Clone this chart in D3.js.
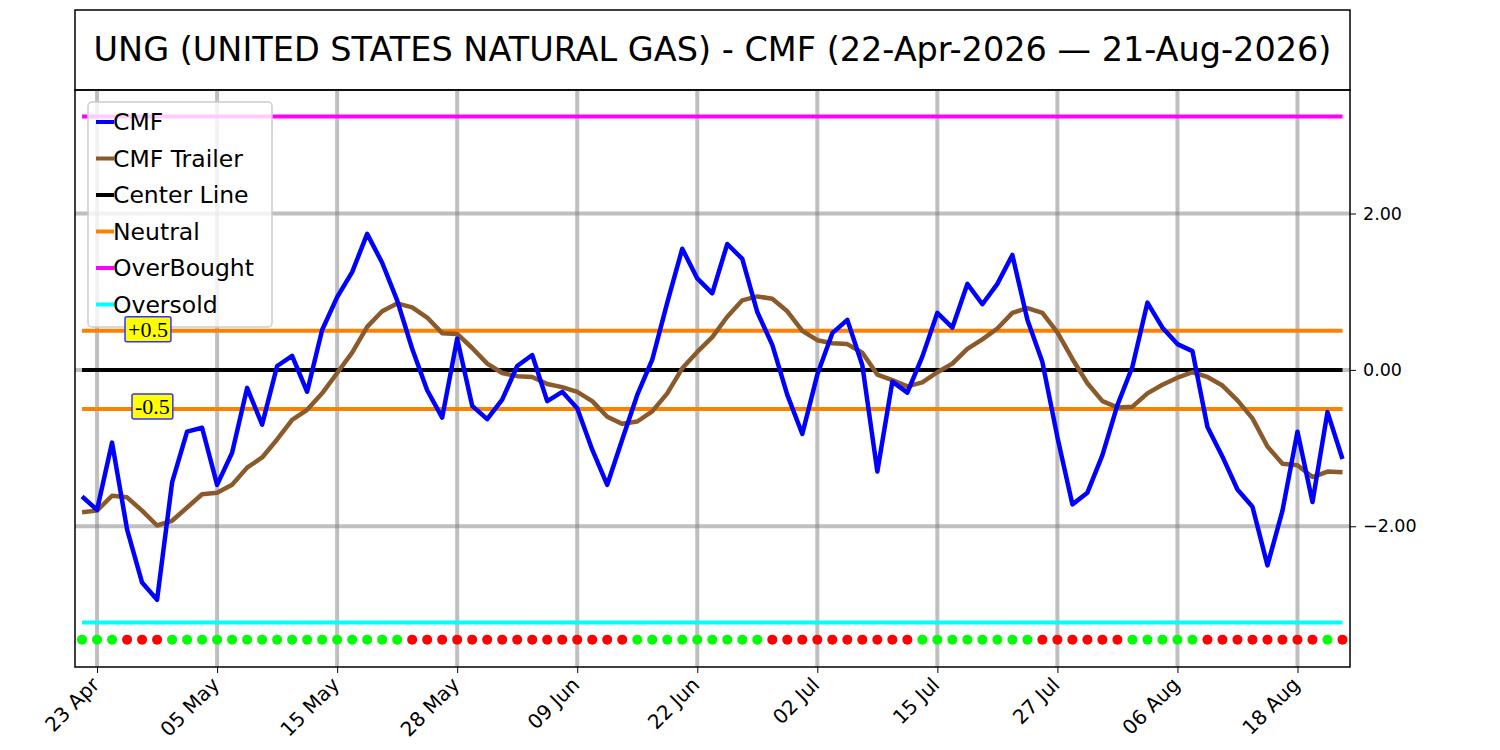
<!DOCTYPE html>
<html>
<head>
<meta charset="utf-8">
<script src="https://cdn.jsdelivr.net/npm/d3@7"></script>
<style>
  body { margin: 0; background: #fff; }
  text { font-family: "DejaVu Sans", sans-serif; }
  text.serif { font-family: "Liberation Serif", "DejaVu Serif", serif; }
</style>
</head>
<body>
<svg id="chart" width="1500" height="750"></svg>
<script>
// trading days 22-Apr-2026 .. 21-Aug-2026 (index based x axis)
const tickIdx = [1, 9, 17, 25, 33, 41, 49, 57, 65, 73, 81];
const tickLabels = ["23 Apr", "05 May", "15 May", "28 May", "09 Jun", "22 Jun", "02 Jul", "15 Jul", "27 Jul", "06 Aug", "18 Aug"];

const cmf = [-1.62, -1.79, -0.93, -2.04, -2.72, -2.94, -1.44, -0.79, -0.74, -1.47,
  -1.06, -0.23, -0.70, 0.05, 0.18, -0.28, 0.51, 0.93, 1.25, 1.74,
  1.37, 0.89, 0.27, -0.26, -0.61, 0.40, -0.46, -0.63, -0.38, 0.05,
  0.19, -0.40, -0.28, -0.49, -1.02, -1.47, -0.89, -0.32, 0.13, 0.86,
  1.55, 1.17, 0.98, 1.61, 1.42, 0.74, 0.32, -0.32, -0.82, -0.06,
  0.47, 0.64, 0.06, -1.30, -0.15, -0.29, 0.17, 0.73, 0.54, 1.10,
  0.84, 1.10, 1.47, 0.64, 0.10, -0.86, -1.72, -1.57, -1.09, -0.45,
  0.04, 0.86, 0.54, 0.33, 0.24, -0.73, -1.11, -1.53, -1.75, -2.50,
  -1.80, -0.79, -1.69, -0.54, -1.14];

const trailer = [-1.82, -1.80, -1.61, -1.63, -1.80, -1.99, -1.93, -1.76, -1.59, -1.57,
  -1.47, -1.25, -1.12, -0.89, -0.64, -0.51, -0.30, -0.04, 0.22, 0.55,
  0.75, 0.85, 0.80, 0.67, 0.47, 0.46, 0.28, 0.08, -0.04, -0.08,
  -0.09, -0.18, -0.22, -0.28, -0.40, -0.60, -0.69, -0.66, -0.53, -0.30,
  0.02, 0.23, 0.42, 0.68, 0.89, 0.94, 0.91, 0.75, 0.50, 0.38,
  0.34, 0.33, 0.22, -0.06, -0.13, -0.21, -0.16, -0.03, 0.08, 0.27,
  0.39, 0.53, 0.73, 0.79, 0.73, 0.48, 0.14, -0.17, -0.40, -0.48,
  -0.47, -0.30, -0.19, -0.10, -0.03, -0.09, -0.20, -0.39, -0.62, -0.98,
  -1.20, -1.22, -1.37, -1.30, -1.31];

// 1 = green (bullish), 0 = red
const signal = [1, 1, 1, 0, 0, 0, 1, 1, 1, 1,
  1, 1, 1, 1, 1, 1, 1, 1, 1, 1,
  1, 1, 0, 0, 0, 0, 0, 0, 0, 0,
  0, 0, 0, 0, 0, 0, 0, 1, 1, 1,
  1, 1, 1, 1, 1, 1, 0, 0, 0, 0,
  0, 0, 0, 0, 0, 0, 1, 1, 1, 1,
  1, 1, 1, 1, 0, 0, 0, 0, 0, 0,
  1, 1, 1, 1, 1, 0, 0, 0, 0, 0,
  0, 0, 0, 1, 0];

const yTicks = [-2, 0, 2];
const levels = { center: 0, neutralUp: 0.5, neutralDn: -0.5, overBought: 3.24, overSold: -3.23 };
const dotLevel = -3.45;

const pL = 75, pR = 1350, pT = 90, pB = 667;
const svg = d3.select("#chart");

const x = d3.scaleLinear().domain([-0.47, 84.5]).range([pL, pR]);
const y = d3.scaleLinear().domain([-3.8, 3.58]).range([pB, pT]);

// title box
svg.append("rect").attr("x", pL).attr("y", 10).attr("width", pR - pL).attr("height", 80)
  .attr("fill", "none").attr("stroke", "#000").attr("stroke-width", 1.5);
svg.append("text").attr("x", (pL + pR) / 2).attr("y", 61).attr("text-anchor", "middle")
  .attr("font-size", 33.5).text("UNG (UNITED STATES NATURAL GAS) - CMF (22-Apr-2026 \u2014 21-Aug-2026)");

// grid
const grid = svg.append("g").attr("stroke", "#808080").attr("stroke-opacity", 0.5).attr("stroke-width", 4);
grid.selectAll("line.v").data(tickIdx).join("line")
  .attr("x1", d => x(d)).attr("x2", d => x(d)).attr("y1", pT).attr("y2", pB);
grid.selectAll("line.h").data(yTicks).join("line")
  .attr("x1", pL).attr("x2", pR).attr("y1", d => y(d)).attr("y2", d => y(d));

// horizontal levels
const hl = [
  [levels.overBought, "#ff00ff"], [levels.overSold, "#00ffff"],
  [levels.neutralUp, "#ff8000"], [levels.neutralDn, "#ff8000"], [levels.center, "#000"]
];
svg.append("g").selectAll("line").data(hl).join("line")
  .attr("x1", x(0)).attr("x2", x(84)).attr("y1", d => y(d[0])).attr("y2", d => y(d[0]))
  .attr("stroke", d => d[1]).attr("stroke-width", 4);

// lines
const line = d3.line().x((d, i) => x(i)).y(d => y(d));
svg.append("path").datum(trailer).attr("d", line).attr("fill", "none")
  .attr("stroke", "#8b5a2b").attr("stroke-width", 4.5).attr("stroke-linejoin", "round");
svg.append("path").datum(cmf).attr("d", line).attr("fill", "none")
  .attr("stroke", "#0000ff").attr("stroke-width", 4.5).attr("stroke-linejoin", "round");

// signal dots
svg.append("g").selectAll("circle").data(signal).join("circle")
  .attr("cx", (d, i) => x(i)).attr("cy", y(dotLevel)).attr("r", 5)
  .attr("fill", d => d ? "#00ff00" : "#ff0000");

// frame
svg.append("rect").attr("x", pL).attr("y", pT).attr("width", pR - pL).attr("height", pB - pT)
  .attr("fill", "none").attr("stroke", "#000").attr("stroke-width", 1.5);

// axes
const yAxis = d3.axisRight(y).tickValues(yTicks).tickFormat(d3.format(".2f")).tickSize(6);
const ya = svg.append("g").attr("transform", `translate(${pR},0)`).call(yAxis);
ya.select(".domain").remove();
ya.selectAll("text").attr("font-size", 17.5).attr("dx", 4);

const xAxis = d3.axisBottom(x).tickValues(tickIdx).tickFormat((d, i) => tickLabels[i]).tickSize(6);
const xa = svg.append("g").attr("transform", `translate(0,${pB})`).call(xAxis);
xa.select(".domain").remove();
xa.selectAll("text").attr("font-size", 20).attr("y", 0).attr("dy", "0.35em")
  .attr("text-anchor", "end").attr("transform", "translate(-2,14) rotate(-45)");

// legend
const legItems = [["CMF", "#0000ff"], ["CMF Trailer", "#8b5a2b"], ["Center Line", "#000"],
  ["Neutral", "#ff8000"], ["OverBought", "#ff00ff"], ["Oversold", "#00ffff"]];
const lg = svg.append("g").attr("transform", "translate(88,102)");
lg.append("rect").attr("width", 184).attr("height", 225).attr("rx", 4)
  .attr("fill", "#fff").attr("fill-opacity", 0.8).attr("stroke", "#ccc").attr("stroke-width", 1.5);
legItems.forEach(([t, c], i) => {
  const yy = 20 + i * 36.5;
  lg.append("line").attr("x1", 8).attr("x2", 26).attr("y1", yy).attr("y2", yy).attr("stroke", c).attr("stroke-width", 4);
  lg.append("text").attr("x", 25).attr("y", yy + 8).attr("font-size", 23.5).text(t);
});

// neutral labels (drawn over legend)
const labs = [[levels.neutralUp, "+0.5", 125, -1], [levels.neutralDn, "-0.5", 132, -2]];
labs.forEach(([v, t, lx, dy]) => {
  const g = svg.append("g");
  const txt = g.append("text").attr("class", "serif").attr("x", lx + 3).attr("y", y(v) + 7 + dy)
    .attr("font-size", 22).text(t);
  const b = txt.node().getBBox();
  g.insert("rect", "text").attr("x", b.x - 3).attr("y", b.y).attr("width", b.width + 6).attr("height", b.height)
    .attr("rx", 2).attr("fill", "#ffff00").attr("stroke", "#3333ff").attr("stroke-width", 1.5);
});
</script>
</body>
</html>
